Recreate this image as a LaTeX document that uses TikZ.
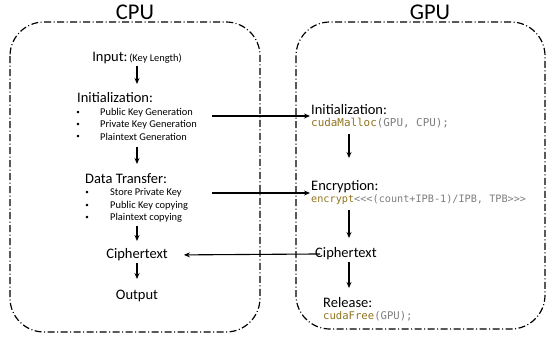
\documentclass[tikz,border=0pt]{standalone}
\usepackage{fontspec}
\setmainfont{Carlito}
\setmonofont{DejaVu Sans Mono}
\usetikzlibrary{arrows.meta}
\definecolor{fngold}{RGB}{145,115,30}
\definecolor{codegray}{RGB}{125,125,125}
\newcommand\cfn[1]{\textcolor{fngold}{#1}}
\newcommand\cgr[1]{\textcolor{codegray}{#1}}
\tikzset{
  mainf/.style={font=\fontsize{14.5}{12}\selectfont, inner sep=0pt},
  itemf/.style={font=\fontsize{10.4}{12}\selectfont, inner sep=0pt},
  bulletf/.style={font=\fontsize{7}{7}\selectfont, inner sep=0pt},
  titlef/.style={font=\fontsize{22.5}{24}\selectfont, inner sep=0pt},
  arr/.style={-{Stealth[length=6pt,width=5pt]}, line width=1.1pt},
  regionbox/.style={draw, line width=1.2pt, rounded corners=34pt,
    dash pattern=on 7pt off 2.5pt on 1pt off 2.5pt},
}
\begin{document}
\begin{tikzpicture}[x=1pt,y=-1pt]
\path[use as bounding box] (0,0) rectangle (546,341);
% region boxes
\draw[regionbox] (10,22) rectangle (260,332);
\draw[regionbox] (296,22) rectangle (545,329);
\node[titlef] (tcpu) at (135,12) {CPU};
\node[titlef] (tgpu) at (430,12) {GPU};

% CPU column
\node[mainf] (input) at (137,58) {Input:{\fontsize{10.4}{12}\selectfont\,(Key Length)}};
\node[mainf, anchor=west] (cinit) at (77,98) {Initialization:};
\node[bulletf] (b1) at (78,113) {•};
\node[bulletf] (b2) at (78,125) {•};
\node[bulletf] (b3) at (78,137) {•};
\node[itemf, anchor=west] (ci1) at (100,113) {Public Key Generation};
\node[itemf, anchor=west] (ci2) at (100,125) {Private Key Generation};
\node[itemf, anchor=west] (ci3) at (100,137) {Plaintext Generation};
\node[mainf, anchor=west] (cdt) at (85,178.5) {Data Transfer:};
\node[bulletf] (d1) at (87,193) {•};
\node[bulletf] (d2) at (87,205.5) {•};
\node[bulletf] (d3) at (87,217.5) {•};
\node[itemf, anchor=west] (cd1) at (110,193) {Store Private Key};
\node[itemf, anchor=west] (cd2) at (110,205.5) {Public Key copying};
\node[itemf, anchor=west] (cd3) at (110,217.5) {Plaintext copying};
\node[mainf] (ccip) at (137,255) {Ciphertext};
\node[mainf] (cout) at (137,296) {Output};
\coordinate (cx) at (137,0);
\coordinate (s1) at (212,116);
\coordinate (s2) at (212,193);

\draw[arr] (cx |- 0,66) -- (cx |- 0,84);
\draw[arr] (cx |- 0,147) -- (cx |- 0,164);
\draw[arr] (cx |- 0,226) -- (cx |- 0,241);
\draw[arr] (cx |- 0,263) -- (cx |- 0,279);

% GPU column
\node[mainf, anchor=west, align=left, inner sep=1pt] (ginit) at (310,116)
  {Initialization:\\{\ttfamily\fontsize{10.9}{12}\selectfont\cfn{cudaMalloc}\cgr{(GPU, CPU);}}};
\node[mainf, anchor=west, align=left, inner sep=1pt] (genc) at (310,193)
  {Encryption:\\{\ttfamily\fontsize{10.2}{12}\selectfont\cfn{encrypt}\cgr{<<<(count+IPB-1)/IPB, TPB>>>}}};
\node[mainf, anchor=west] (gcip) at (315,254) {Ciphertext};
\node[mainf, anchor=west, align=left, inner sep=1pt] (grel) at (322,309)
  {Release:\\{\ttfamily\fontsize{10.6}{12}\selectfont\cfn{cudaFree}\cgr{(GPU);}}};
\coordinate (gx) at (349,0);

\draw[arr] (gx |- 0,134) -- (gx |- 0,158);
\draw[arr] (gx |- 0,210) -- (gx |- 0,238);
\draw[arr] (gx |- 0,262) -- (gx |- 0,288);

% cross connectors
\draw[arr] (s1) -- (ginit.west);
\draw[arr] (s2) -- (genc.west);
\draw[arr, shorten <=-5pt, shorten >=16pt] (gcip.west) -- (ccip.east);
\end{tikzpicture}
\end{document}
